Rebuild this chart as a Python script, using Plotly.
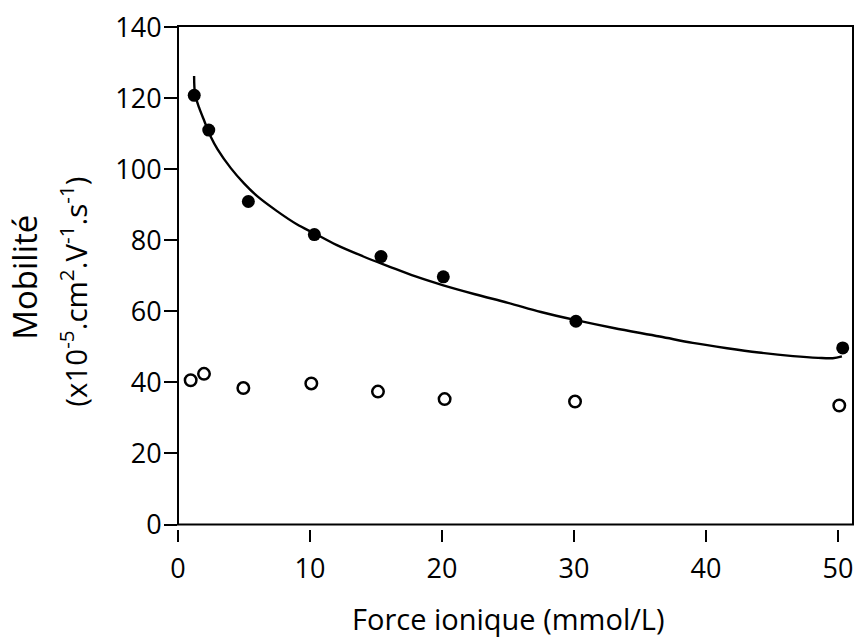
import plotly.graph_objects as go

# Filled circles (mobilité totale)
force_filled = [1.23, 2.33, 5.33, 10.33, 15.38, 20.1, 30.15, 50.36]
mob_filled = [120.8, 111.0, 90.9, 81.6, 75.4, 69.7, 57.2, 49.7]

# Open circles
force_open = [0.96, 1.97, 4.95, 10.1, 15.15, 20.2, 30.08, 50.1]
mob_open = [40.6, 42.4, 38.4, 39.7, 37.4, 35.3, 34.6, 33.5]

# Fitted curve
curve_x = [1.22, 1.3, 1.6, 2.0, 2.5, 3.0, 4.0, 5.0, 6.0, 7.5, 9.0, 10.3, 12.0, 14.0,
           16.0, 18.0, 20.1, 22.5, 25.0, 27.5, 30.15, 33.0, 36.5, 39.0, 41.6, 44.0,
           46.6, 48.5, 49.6, 50.3]
curve_y = [126.2, 121.0, 117.3, 113.5, 109.0, 105.6, 100.3, 96.0, 92.4, 88.2, 84.5, 82.0,
           78.7, 75.5, 72.6, 69.8, 67.3, 64.8, 62.4, 59.8, 57.5, 55.3, 52.9, 51.1, 49.6,
           48.4, 47.4, 46.9, 46.8, 47.3]

x_ticks = [0, 10, 20, 30, 40, 50]
y_ticks = [0, 20, 40, 60, 80, 100, 120, 140]

FONT = "Open Sans"
L, R, T, B = 178, 3, 26, 109
W, H = 856, 638
PW = W - L - R
PH = H - T - B

fig = go.Figure()
fig.add_trace(go.Scatter(x=curve_x, y=curve_y, mode="lines",
                         line=dict(color="black", width=2.4, shape="spline", smoothing=1.0),
                         hoverinfo="skip"))
fig.add_trace(go.Scatter(x=force_open, y=mob_open, mode="markers",
                         marker=dict(symbol="circle-open", size=11.5, color="black",
                                     line=dict(width=2.5, color="black"))))
fig.add_trace(go.Scatter(x=force_filled, y=mob_filled, mode="markers",
                         marker=dict(symbol="circle", size=13, color="black")))

fig.update_layout(
    width=W, height=H,
    margin=dict(l=L, r=R, t=T, b=B),
    plot_bgcolor="white", paper_bgcolor="white",
    showlegend=False,
    font=dict(family=FONT, color="black"),
)
fig.update_xaxes(
    range=[0, 51.14], tickvals=x_ticks, ticktext=[str(v) for v in x_ticks],
    ticks="outside", ticklen=12, tickwidth=2, tickcolor="black",
    showline=False, showgrid=False, zeroline=False,
    anchor="free", position=0,
    tickfont=dict(size=27, family=FONT, color="black"),
    ticklabelstandoff=4,
)
fig.update_yaxes(
    domain=[4.5 / PH, 1], range=[0, 140.3], tickvals=y_ticks,
    ticktext=[str(v) for v in y_ticks],
    ticks="outside", ticklen=13, tickwidth=2, tickcolor="black",
    showline=False, showgrid=False, zeroline=False,
    tickfont=dict(size=27, family=FONT, color="black"),
    ticklabelstandoff=-3,
)
fig.add_shape(type="rect", xref="x domain", yref="y domain", x0=0, x1=1, y0=0, y1=1,
              line=dict(color="black", width=2), fillcolor="rgba(0,0,0,0)", layer="above")

fig.add_annotation(text="Force ionique (mmol/L)", xref="paper", yref="paper",
                   x=(508 - L) / PW, y=(H - B - 618) / PH, xanchor="center", yanchor="middle",
                   showarrow=False, font=dict(size=29, family=FONT, color="black"))
fig.add_annotation(text="Mobilité", xref="paper", yref="y domain",
                   x=(25 - L) / PW, y=0.495, xanchor="center", yanchor="middle", textangle=-90,
                   showarrow=False, font=dict(size=33, family=FONT, color="black"))
fig.add_annotation(text="(x10<sup>-5</sup>.cm<sup>2</sup>.V<sup>-1</sup>.s<sup>-1</sup>)",
                   xref="paper", yref="y domain",
                   x=(74 - L) / PW, y=0.467, xanchor="center", yanchor="middle", textangle=-90,
                   showarrow=False, font=dict(size=29.5, family=FONT, color="black"))

fig.write_html("out.html", post_script="document.body.style.margin='0';",
               config={"displayModeBar": False})
